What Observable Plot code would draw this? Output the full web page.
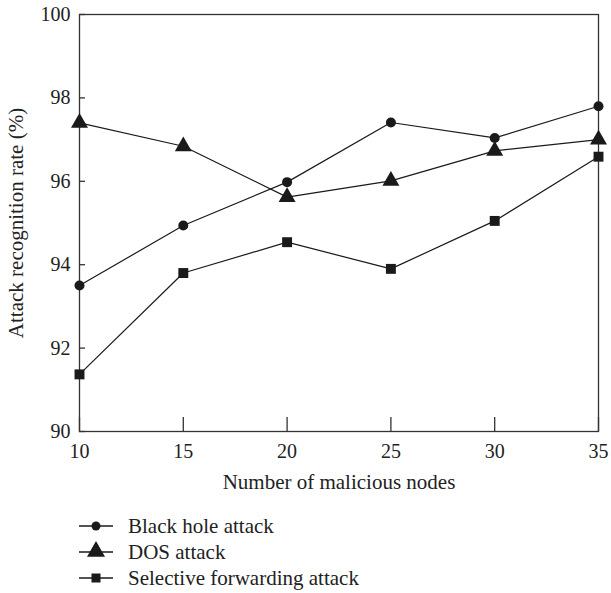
<!DOCTYPE html>
<html>
<head>
<meta charset="utf-8">
<script src="https://cdn.jsdelivr.net/npm/d3@7"></script>
<script src="https://cdn.jsdelivr.net/npm/@observablehq/plot@0.6"></script>
<style>
  body { margin: 0; background: #fff; font-family: "Liberation Serif", serif; }
  #legend { margin-top: 13px; padding-left: 79px; font-size: 21px; color: #222; }
  .row { display: flex; align-items: center; height: 26px; }
  .row svg { margin-right: 14px; }
</style>
</head>
<body>
<div id="chart"></div>
<div id="legend"></div>
<script>
const nodes = [10, 15, 20, 25, 30, 35];
const blackHole = [93.50, 94.94, 95.98, 97.41, 97.04, 97.80];
const dos = [97.40, 96.84, 95.62, 96.01, 96.73, 97.00];
const selective = [91.37, 93.80, 94.54, 93.90, 95.05, 96.59];
const seriesNames = ["Black hole attack", "DOS attack", "Selective forwarding attack"];
const seriesSymbols = ["circle", "triangle", "square"];
const seriesR = [5, 6.3, 5.6];
const xTicks = [10, 15, 20, 25, 30, 35];
const yTicks = [90, 92, 94, 96, 98, 100];

const rows = [];
[blackHole, dos, selective].forEach((vals, i) => {
  vals.forEach((v, j) => rows.push({series: seriesNames[i], x: nodes[j], y: v, symbol: seriesSymbols[i], r: seriesR[i]}));
});

const ink = "#1a1a1a";
const chart = Plot.plot({
  width: 611,
  height: 500,
  marginLeft: 79,
  marginRight: 13,
  marginTop: 14,
  marginBottom: 69,
  style: {fontFamily: "Liberation Serif, serif", fontSize: "20px", color: "#222", background: "#fff"},
  x: {domain: [10, 35]},
  y: {domain: [90, 100]},
  marks: [
    Plot.frame({stroke: "#333", strokeWidth: 1.3}),
    Plot.axisX(xTicks, {tickSize: -14, tickPadding: 26, stroke: "#333", strokeWidth: 1.3, label: null}),
    Plot.axisY(yTicks, {tickSize: -6, tickPadding: 15, stroke: "#333", strokeWidth: 1.3, label: null}),
    Plot.text(["Number of malicious nodes"], {frameAnchor: "bottom", dy: 51, lineAnchor: "middle", fill: "#222", fontSize: 21}),
    Plot.text(["Attack recognition rate (%)"], {frameAnchor: "left", dx: -63, rotate: -90, lineAnchor: "middle", textAnchor: "middle", fill: "#222", fontSize: 21}),
    Plot.line(rows, {x: "x", y: "y", z: "series", stroke: ink, strokeWidth: 1.2}),
    Plot.dot(rows.filter(d => d.symbol === "circle"), {x: "x", y: "y", symbol: "circle", r: seriesR[0], fill: ink, stroke: "none"}),
    Plot.dot(rows.filter(d => d.symbol === "triangle"), {x: "x", y: "y", symbol: "triangle", r: seriesR[1], fill: ink, stroke: "none"}),
    Plot.dot(rows.filter(d => d.symbol === "square"), {x: "x", y: "y", symbol: "square", r: seriesR[2], fill: ink, stroke: "none"})
  ]
});
document.getElementById("chart").appendChild(chart);

// legend
const legend = d3.select("#legend");
const legendShapes = [
  g => g.append("circle").attr("cx", 17).attr("cy", 13).attr("r", 4.5),
  g => g.append("path").attr("d", d3.symbol(d3.symbolTriangle, 140)()).attr("transform", "translate(17,12.5)"),
  g => g.append("rect").attr("x", 12.5).attr("y", 8.5).attr("width", 9).attr("height", 9)
];
seriesNames.forEach((name, i) => {
  const row = legend.append("div").attr("class", "row");
  const svg = row.append("svg").attr("width", 35).attr("height", 26);
  svg.append("line").attr("x1", 0).attr("x2", 34).attr("y1", 13).attr("y2", 13).attr("stroke", ink).attr("stroke-width", 1.3);
  const g = svg.append("g").attr("fill", ink);
  legendShapes[i](g);
  row.append("span").text(name);
});
</script>
</body>
</html>
